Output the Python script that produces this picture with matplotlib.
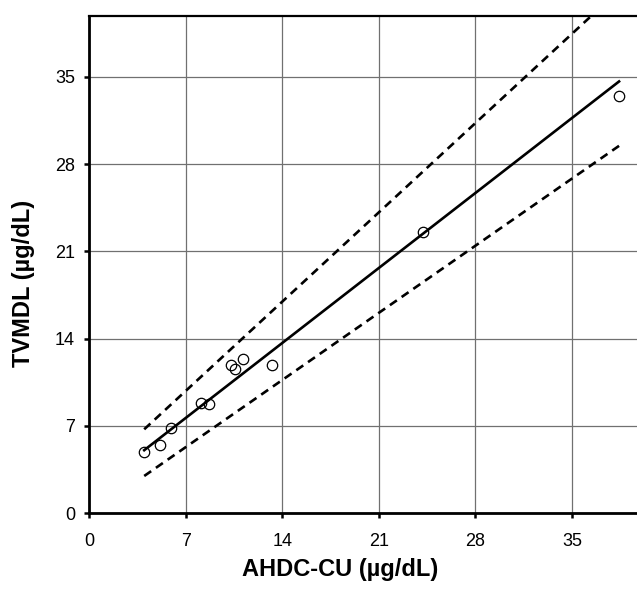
import numpy as np
import matplotlib
matplotlib.use("Agg")
import matplotlib.pyplot as plt

plt.rcParams['font.family'] = ['Liberation Sans', 'DejaVu Sans']

# Paired measurements (µg/dL)
ahdc_cu = [4.02, 5.16, 5.95, 8.13, 8.69, 10.31, 10.60, 11.18, 13.29, 24.20, 38.42]
tvmdl = [4.87, 5.45, 6.84, 8.83, 8.78, 11.87, 11.52, 12.35, 11.89, 22.56, 33.46]

# Fitted line and its limits: slope, intercept
fit_slope, fit_intercept = 0.860, 1.60
upper_slope, upper_intercept = 1.024, 2.62
lower_slope, lower_intercept = 0.770, -0.11
line_x = [4.0, 38.4]

ticks = [0, 7, 14, 21, 28, 35]

W, H = 637, 589
fig = plt.figure(figsize=(W / 100, H / 100), dpi=100)
ax = fig.add_axes([89 / W, 76 / H, 548 / W, 497.3 / H])

xs = np.array(line_x)
ax.plot(xs, fit_slope * xs + fit_intercept, color='black', lw=1.9, zorder=3)
ax.plot(xs, upper_slope * xs + upper_intercept, color='black', lw=1.9,
        dashes=(3.2, 2.2), zorder=3)
ax.plot(xs, lower_slope * xs + lower_intercept, color='black', lw=1.9,
        dashes=(3.2, 2.2), zorder=3)
ax.plot(ahdc_cu, tvmdl, 'o', mfc='none', mec='black', ms=7.5, mew=0.9, zorder=4)

ax.set_xlim(0, 39.7)
ax.set_ylim(0, 39.9)
ax.set_xticks(ticks)
ax.set_yticks(ticks)
ax.grid(True, color='#707070', lw=0.9)
ax.set_axisbelow(True)

ax.spines['right'].set_visible(False)
ax.spines['left'].set_linewidth(2.0)
ax.spines['bottom'].set_linewidth(2.0)
ax.spines['top'].set_linewidth(1.6)
ax.tick_params(direction='out', length=3.6, width=1.8, labelsize=13)
ax.tick_params(axis='x', pad=10.5)
ax.tick_params(axis='y', pad=6.5)

ax.set_xlabel('AHDC-CU (µg/dL)', fontsize=17, fontweight='bold', va='center')
ax.xaxis.set_label_coords(0.459, -0.1146)
ax.set_ylabel('TVMDL (µg/dL)', fontsize=17, fontweight='bold', va='center')
ax.yaxis.set_label_coords(-0.1204, 0.4625)

fig.savefig('out.png', dpi=100)
